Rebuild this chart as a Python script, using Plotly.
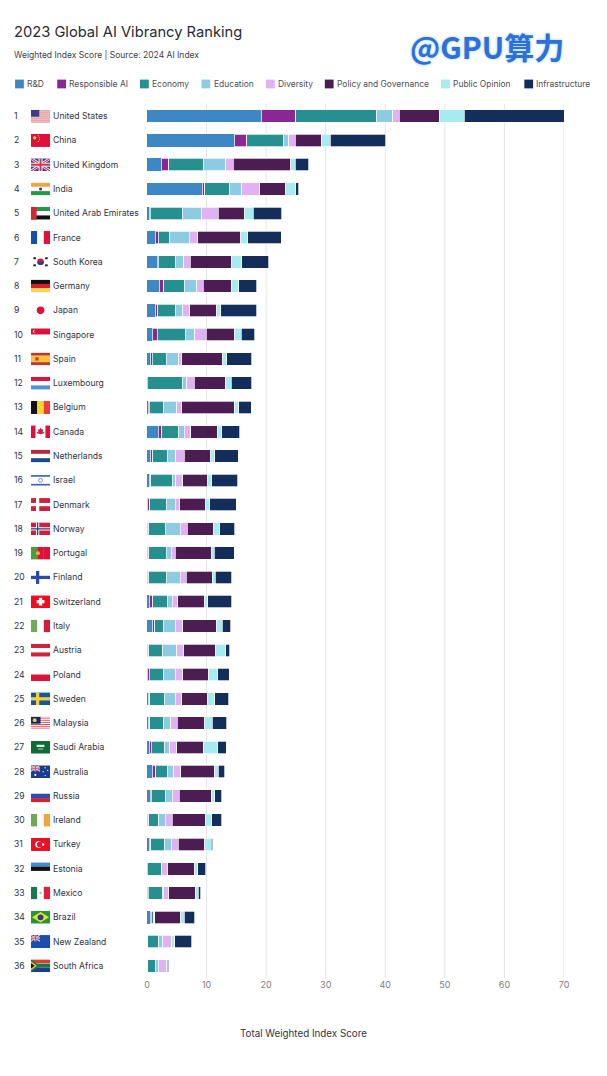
import base64

import plotly.graph_objects as go

countries = ["United States", "China", "United Kingdom", "India", "United Arab Emirates", "France",
             "South Korea", "Germany", "Japan", "Singapore", "Spain", "Luxembourg", "Belgium", "Canada",
             "Netherlands", "Israel", "Denmark", "Norway", "Portugal", "Finland", "Switzerland", "Italy",
             "Austria", "Poland", "Sweden", "Malaysia", "Saudi Arabia", "Australia", "Russia", "Ireland",
             "Turkey", "Estonia", "Mexico", "Brazil", "New Zealand", "South Africa"]

rd = [19.27, 14.74, 2.5, 9.25, 0.5, 1.5, 1.68, 2.13, 1.5, 0.95, 0.6, 0.05, 0.2, 1.9, 0.6, 0.45, 0.15, 0.1,
      0.1, 0.1, 0.5, 0.95, 0.15, 0.15, 0.28, 0.28, 0.5, 0.95, 0.55, 0.15, 0.5, 0.05, 0.1, 0.55, 0.1, 0.1]
responsible_ai = [5.7, 2.0, 1.15, 0.45, 0.05, 0.35, 0.2, 0.72, 0.3, 0.73, 0.3, 0.0, 0.2, 0.56, 0.4, 0.22, 0.3, 0.2,
                  0.2, 0.23, 0.45, 0.34, 0.18, 0.25, 0.22, 0.22, 0.23, 0.5, 0.18, 0.18, 0.17, 0.0, 0.1, 0.18, 0.05, 0.05]
economy = [13.6, 6.1, 5.85, 4.15, 5.4, 1.95, 2.92, 3.41, 3.0, 4.75, 2.34, 5.88, 2.3, 2.91, 2.52, 3.53, 2.79, 2.78,
           2.89, 2.91, 2.57, 1.51, 2.3, 2.34, 2.4, 2.3, 2.27, 2.07, 2.4, 1.63, 2.29, 2.3, 2.37, 0.4, 1.8, 1.25]
education = [2.7, 0.95, 3.7, 2.05, 3.2, 3.25, 1.4, 2.13, 1.2, 1.57, 2.06, 0.73, 2.3, 0.89, 1.28, 0.6, 1.51, 2.46,
             0.89, 2.3, 0.68, 1.95, 2.37, 2.01, 1.8, 1.17, 0.8, 0.95, 1.07, 1.12, 1.07, 0.15, 0.17, 0.1, 0.67, 0.45]
diversity = [1.1, 1.1, 1.3, 3.0, 2.8, 1.45, 1.07, 1.06, 1.16, 1.96, 0.5, 1.24, 0.8, 1.12, 1.46, 1.2, 0.73, 1.23,
             0.67, 1.06, 1.0, 1.25, 1.2, 1.25, 1.1, 1.13, 1.2, 1.18, 1.23, 1.17, 1.23, 1.02, 0.95, 0.1, 1.45, 1.34]
policy = [6.7, 4.4, 9.6, 4.4, 4.4, 7.27, 6.93, 4.65, 4.58, 4.74, 6.8, 5.2, 8.85, 4.52, 4.42, 4.23, 4.36, 4.47,
          6.1, 4.36, 4.48, 5.63, 5.32, 4.3, 4.43, 4.5, 4.45, 5.7, 5.37, 5.59, 4.42, 4.48, 4.53, 4.3, 0.06, 0.05]
public_opinion = [4.2, 1.5, 0.8, 1.66, 1.45, 1.13, 1.68, 1.28, 0.62, 1.13, 0.8, 1.05, 0.73, 0.63, 0.72, 0.62, 0.73, 0.96,
                  0.45, 0.51, 0.55, 1.01, 1.68, 1.56, 1.17, 1.36, 2.41, 0.65, 0.6, 1.01, 1.12, 0.56, 0.38, 0.62, 0.56, 0.17]
infrastructure = [16.8, 9.3, 2.25, 0.55, 4.8, 5.6, 4.52, 3.02, 6.04, 2.23, 4.2, 3.45, 2.12, 3.07, 3.92, 4.42, 4.43, 2.57,
                  3.35, 2.79, 3.97, 1.4, 0.73, 1.94, 2.36, 2.44, 1.44, 1.03, 1.18, 1.68, 0.27, 1.34, 0.46, 1.73, 2.85, 0.22]

series = [("R&D", rd, "#3d87c4"),
          ("Responsible AI", responsible_ai, "#8b2795"),
          ("Economy", economy, "#25908f"),
          ("Education", education, "#8ccbe2"),
          ("Diversity", diversity, "#e2b1f4"),
          ("Policy and Governance", policy, "#4c1d52"),
          ("Public Opinion", public_opinion, "#a5ebef"),
          ("Infrastructure", infrastructure, "#142e5c")]

x_ticks = [0, 10, 20, 30, 40, 50, 60, 70]
legend_swatch_px = [14.5, 56.7, 139.5, 201, 265.5, 324.4, 440.7, 524]

WIDTH, HEIGHT = 607, 1076
LEFT, RIGHT, TOP, BOTTOM = 146.5, 563.7, 104, 977.7
FONT = "Inter"
TEXT_COLOR = "#30343f"


def px_x(px):
    return (px - LEFT) / (RIGHT - LEFT)


def px_y(px):
    return (BOTTOM - px) / (BOTTOM - TOP)


def label(px, py, text, size, color, anchor="left", family=FONT, **font_extra):
    # left anchored annotations carry about 3px of padding
    shift = -3 if anchor == "left" else 0
    return dict(x=px_x(px + shift), y=px_y(py), xref="paper", yref="paper", text=text, showarrow=False,
                xanchor=anchor, yanchor="middle", font=dict(family=family, size=size, color=color, **font_extra))


def rect(x, y, w, h, color):
    return f'<rect x="{x}" y="{y}" width="{w}" height="{h}" fill="{color}"/>'


def circle(x, y, r, color):
    return f'<circle cx="{x}" cy="{y}" r="{r}" fill="{color}"/>'


def hstripes(*colors):
    h = 20 / len(colors)
    return "".join(rect(0, i * h, 30, h + 0.1, c) for i, c in enumerate(colors))


def vstripes(*colors):
    w = 30 / len(colors)
    return "".join(rect(i * w, 0, w + 0.1, 20, c) for i, c in enumerate(colors))


def nordic(bg, cross, inner=None):
    body = rect(0, 0, 30, 20, bg) + rect(8, 0, 5, 20, cross) + rect(0, 7.5, 30, 5, cross)
    if inner:
        body += rect(9.5, 0, 2, 20, inner) + rect(0, 9, 30, 2, inner)
    return body


def union_jack(w, h):
    return (rect(0, 0, w, h, "#2a4a9c")
            + f'<path d="M0 0L{w} {h}M{w} 0L0 {h}" stroke="#fff" stroke-width="{h / 5}"/>'
            + f'<path d="M0 0L{w} {h}M{w} 0L0 {h}" stroke="#d9304a" stroke-width="{h / 12}"/>'
            + rect(w * 0.4, 0, w * 0.2, h, "#fff") + rect(0, h * 0.35, w, h * 0.3, "#fff")
            + rect(w * 0.45, 0, w * 0.1, h, "#d9304a") + rect(0, h * 0.42, w, h * 0.16, "#d9304a"))


RED = "#e0103a"
WHITE = "#ffffff"
us_stripes = hstripes(*[("#c9424f" if i % 2 == 0 else WHITE) for i in range(13)])

flags = {
    "United States": us_stripes + rect(0, 0, 13, 10.8, "#3c3f86"),
    "China": rect(0, 0, 30, 20, RED) + circle(6, 6, 2.6, "#ffd83d") + circle(11.5, 3, 0.9, "#ffd83d")
             + circle(13.5, 6, 0.9, "#ffd83d") + circle(13.5, 9, 0.9, "#ffd83d") + circle(11.5, 11.5, 0.9, "#ffd83d"),
    "United Kingdom": union_jack(30, 20),
    "India": hstripes("#f7a13c", WHITE, "#1f9a4a") + circle(15, 10, 2.4, "#243f8f"),
    "United Arab Emirates": hstripes("#1d9a50", WHITE, "#101010") + rect(0, 0, 9, 20, "#d8262f"),
    "France": vstripes("#1450a8", WHITE, RED),
    "South Korea": rect(0, 0, 30, 20, WHITE) + circle(15, 10, 5, RED)
                   + '<path d="M10 10a5 5 0 0 0 10 0z" fill="#1f3f8f"/>'
                   + rect(4, 3, 4, 3, "#222") + rect(22, 3, 4, 3, "#222")
                   + rect(4, 14, 4, 3, "#222") + rect(22, 14, 4, 3, "#222"),
    "Germany": hstripes("#111111", "#d6202a", "#fcd34a"),
    "Japan": rect(0, 0, 30, 20, WHITE) + circle(15, 10, 5.8, RED),
    "Singapore": hstripes(RED, WHITE) + circle(6, 5, 2.6, WHITE) + circle(7.4, 5, 2.5, RED),
    "Spain": hstripes("#c5342d", "#f8c13a", "#f8c13a", "#c5342d") + rect(7, 7.5, 5, 5, "#b5462a"),
    "Luxembourg": hstripes(RED, WHITE, "#4f93dc"),
    "Belgium": vstripes("#111111", "#fcd530", "#ea3d3d"),
    "Canada": vstripes(RED, WHITE, WHITE, RED)
              + '<path d="M15 4l2 3 2-1-1 5 2-1 1 2-6 2-6-2 1-2 2 1-1-5 2 1z" fill="#e0103a"/>',
    "Netherlands": hstripes("#b9273c", WHITE, "#1c4a8c"),
    "Israel": hstripes(WHITE) + rect(0, 2, 30, 2.5, "#3a5fb5") + rect(0, 15.5, 30, 2.5, "#3a5fb5")
              + '<circle cx="15" cy="10" r="3" fill="none" stroke="#3a5fb5" stroke-width="1"/>',
    "Denmark": nordic("#cf1f3d", WHITE),
    "Norway": nordic("#cf1f3d", WHITE, "#2a3f8f"),
    "Portugal": vstripes("#4f9a3e", RED, RED) + circle(11, 10, 3, "#e8b03a"),
    "Finland": nordic(WHITE, "#2a4aa5"),
    "Switzerland": rect(0, 0, 30, 20, "#f10f1f") + rect(12.5, 4, 5, 12, WHITE) + rect(9, 7.5, 12, 5, WHITE),
    "Italy": vstripes("#72a95a", WHITE, "#cf1f3d"),
    "Austria": hstripes("#d0243c", WHITE, "#d0243c"),
    "Poland": hstripes(WHITE, "#dc143c"),
    "Sweden": nordic("#1456a5", "#f5cf3a"),
    "Malaysia": hstripes(*[("#d6454f" if i % 2 == 0 else WHITE) for i in range(14)])
                + rect(0, 0, 15, 11, "#1a2766") + circle(6, 5.5, 3, "#f5cf3a"),
    "Saudi Arabia": rect(0, 0, 30, 20, "#0f6b36") + rect(9, 6, 12, 3.5, "#dfeee4") + rect(11, 12, 8, 1.2, "#dfeee4"),
    "Australia": rect(0, 0, 30, 20, "#1c3b8c") + union_jack(14, 9.5) + circle(7, 15, 1.6, WHITE)
                 + circle(22, 4, 1, WHITE) + circle(26, 8, 1, WHITE) + circle(19, 10, 1, WHITE) + circle(22, 16, 1, WHITE),
    "Russia": hstripes(WHITE, "#2a4fb0", "#cf2438"),
    "Ireland": vstripes("#6ea854", WHITE, "#f5a13c"),
    "Turkey": rect(0, 0, 30, 20, "#ec1024") + circle(12, 10, 5, WHITE) + circle(13.5, 10, 4, "#ec1024") + circle(19, 10, 1.8, WHITE),
    "Estonia": hstripes("#3f8fd0", "#111111", WHITE),
    "Mexico": vstripes("#137a52", WHITE, "#e01f3d") + circle(15, 10, 2, "#c2b89a"),
    "Brazil": rect(0, 0, 30, 20, "#1e9a3d") + '<path d="M15 2L28 10L15 18L2 10z" fill="#f7d928"/>' + circle(15, 10, 4.5, "#1f3f8f"),
    "New Zealand": rect(0, 0, 30, 20, "#1450b0") + union_jack(14, 9.5) + circle(22, 5, 1, RED) + circle(25, 9, 1, RED)
                   + circle(20, 10, 1, RED) + circle(22, 15, 1, RED),
    "South Africa": hstripes("#d8432f", WHITE, "#1f3a94")
                    + rect(8, 7, 22, 6, "#12794a") + '<path d="M0 0L14 10L0 20z" fill="#12794a"/>'
                    + '<path d="M0 3L9.5 10L0 17z" fill="#f7c62f"/><path d="M0 5.5L6 10L0 14.5z" fill="#111"/>',
}


def flag_uri(body):
    svg = ('<svg xmlns="http://www.w3.org/2000/svg" width="120" height="80" viewBox="0 0 30 20">'
           '<clipPath id="c"><rect width="30" height="20" rx="1.6"/></clipPath>'
           f'<g clip-path="url(#c)">{body}</g></svg>')
    return "data:image/svg+xml;base64," + base64.b64encode(svg.encode()).decode()


fig = go.Figure()

for name, values, color in series:
    # no outline on the first segment so the bars start right at zero
    line_width = 0 if name == "R&D" else 0.7
    fig.add_trace(go.Bar(y=countries, x=values, name=name, orientation="h", showlegend=False,
                         marker=dict(color=color, line=dict(color="white", width=line_width))))

annotations = []
shapes = []
images = []

# gridlines as shapes since the reference has none at zero
for tick in x_ticks[1:]:
    shapes.append(dict(type="line", xref="x", yref="paper", x0=tick, x1=tick, y0=0, y1=1, layer="below",
                       line=dict(color="#e4e4e4", width=1)))

row_h = (BOTTOM - TOP) / len(countries)
for i, country in enumerate(countries):
    row_y = TOP + row_h * (i + 0.5)
    annotations.append(label(14, row_y, str(i + 1), 8.6, TEXT_COLOR))
    annotations.append(label(53, row_y, country, 8.6, TEXT_COLOR))
    images.append(dict(source=flag_uri(flags[country]), xref="paper", yref="paper",
                       x=px_x(30.2), y=px_y(row_y - 6.5), sizex=19.6 / (RIGHT - LEFT),
                       sizey=13 / (BOTTOM - TOP), sizing="stretch", xanchor="left", yanchor="top", layer="above"))

# legend row, built by hand because the swatches sit tight against the labels
for (name, values, color), swatch_x in zip(series, legend_swatch_px):
    shapes.append(dict(type="rect", xref="paper", yref="paper", x0=px_x(swatch_x), x1=px_x(swatch_x + 8.8),
                       y0=px_y(88.4), y1=px_y(79.6), fillcolor=color, line=dict(width=0)))
    annotations.append(label(swatch_x + 13.1, 84, name, 8.45, "#4a4e59"))

annotations += [
    label(14, 32, "2023 Global AI Vibrancy Ranking", 14.7, "#262a35"),
    label(14, 55, "Weighted Index Score | Source: 2024 AI Index", 8.5, "#3c404b"),
    label(303, 1033, "Total Weighted Index Score", 9.8, TEXT_COLOR, anchor="center"),
    label(486.7, 46, "<b>@GPU算力</b>", 30, "#2f6fdc", anchor="center", family="Noto Sans CJK SC",
          shadow="0px 0px 3px #8fcdf7"),
]

fig.update_layout(
    barmode="stack",
    bargap=0.485,
    width=WIDTH,
    height=HEIGHT,
    margin=dict(l=LEFT, r=WIDTH - RIGHT, t=TOP, b=HEIGHT - BOTTOM, pad=0),
    paper_bgcolor="white",
    plot_bgcolor="white",
    annotations=annotations,
    shapes=shapes,
    images=images,
)
fig.update_xaxes(range=[0, 70], tickvals=x_ticks, showgrid=False, zeroline=False,
                 showline=False, ticks="", tickfont=dict(family=FONT, size=9, color="#7d7d7d"))
fig.update_yaxes(categoryorder="array", categoryarray=countries, range=[35.5, -0.5], showticklabels=False,
                 showgrid=False, zeroline=False, showline=False, ticks="")

fig.write_html("out.html", post_script="document.body.style.margin='0';", config=dict(displayModeBar=False))
